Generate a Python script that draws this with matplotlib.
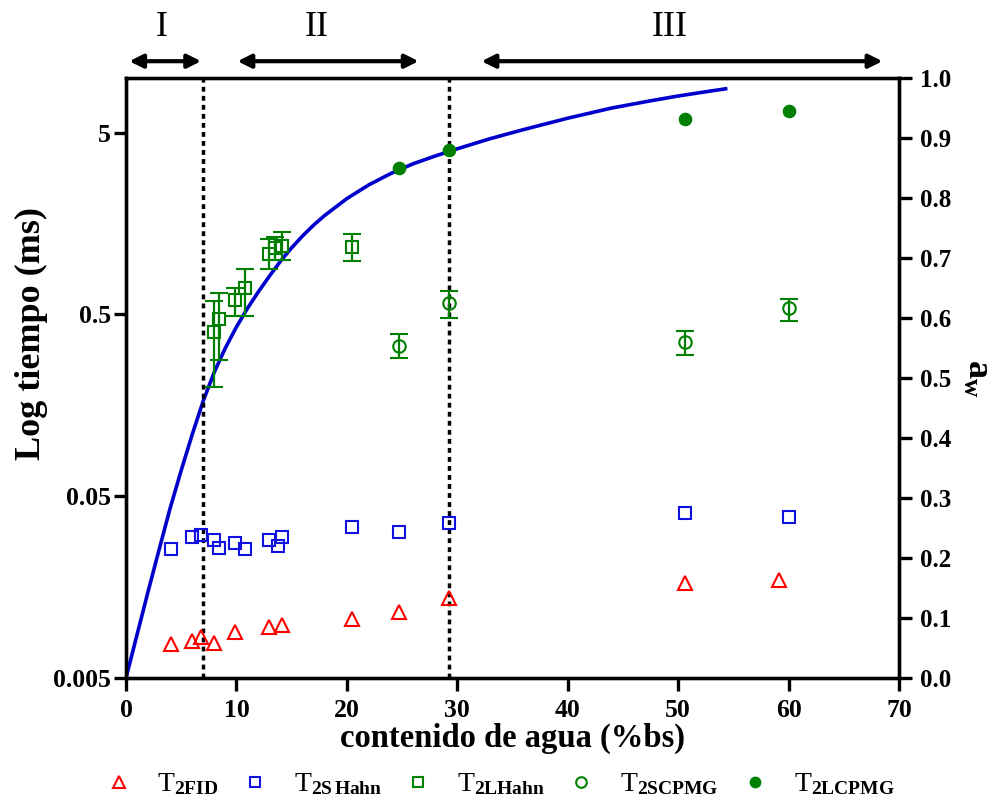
import numpy as np
import matplotlib.pyplot as plt

plt.rcParams['font.family'] = ['Liberation Serif', 'DejaVu Serif']
plt.rcParams['mathtext.fontset'] = 'custom'
plt.rcParams['mathtext.rm'] = 'Liberation Serif'
plt.rcParams['mathtext.bf'] = 'Liberation Serif:bold'
plt.rcParams['mathtext.it'] = 'Liberation Serif:italic'

# T2FID
fid_x = [4.08, 5.98, 6.79, 7.97, 9.87, 12.95, 14.13, 20.47, 24.73, 29.26, 50.6, 59.1]
fid_y = [0.0077, 0.0080, 0.0084, 0.0078, 0.0089, 0.0096, 0.0098, 0.0105, 0.0116, 0.0138, 0.0166, 0.0172]

# T2S Hahn
sh_x = [4.08, 5.98, 6.79, 7.97, 8.42, 9.87, 10.78, 12.95, 13.77, 14.13, 20.47, 24.73, 29.26, 50.6, 60.0]
sh_y = [0.0257, 0.0299, 0.0307, 0.0288, 0.0260, 0.0277, 0.0257, 0.0288, 0.0267, 0.0299,
        0.0340, 0.0318, 0.0357, 0.0405, 0.0385]

# T2L Hahn (with error bars: lower / upper ends)
lh_x = [7.97, 8.42, 9.87, 10.78, 12.95, 13.5, 14.13, 20.47]
lh_y = [0.398, 0.475, 0.597, 0.695, 1.08, 1.16, 1.19, 1.175]
lh_lo = [0.200, 0.282, 0.493, 0.493, 0.893, 1.00, 0.993, 0.984]
lh_hi = [0.590, 0.660, 0.695, 0.895, 1.295, 1.33, 1.42, 1.38]

# T2S CPMG
sc_x = [24.73, 29.26, 50.6, 60.0]
sc_y = [0.337, 0.577, 0.355, 0.540]
sc_lo = [0.287, 0.478, 0.301, 0.463]
sc_hi = [0.388, 0.671, 0.408, 0.612]

# T2L CPMG
lc_x = [24.73, 29.26, 50.6, 60.0]
lc_y = [3.21, 4.01, 5.93, 6.61]

# sorption isotherm (aw, right axis)
iso_x = [0, 1, 2, 3, 4, 5, 6, 7, 8, 9, 10, 11, 12, 13, 14, 15, 16, 17, 18, 20, 22, 24,
         26, 28, 30, 33, 36, 40, 44, 47.5, 50, 53.2, 54.3]
iso_aw = [0, 0.072, 0.144, 0.214, 0.283, 0.346, 0.406, 0.462, 0.510, 0.550, 0.585, 0.616,
          0.644, 0.670, 0.695, 0.717, 0.737, 0.755, 0.771, 0.799, 0.822, 0.841, 0.857,
          0.870, 0.882, 0.899, 0.914, 0.933, 0.950, 0.962, 0.970, 0.979, 0.982]

zone_lines = [6.97, 29.26]
zones = ['I', 'II', 'III']
zone_spans = [(0.3, 6.8), (10.1, 26.5), (32.2, 68.5)]
zone_label_x = [3.25, 17.3, 49.2]

red = '#FF0000'
blue = '#1010E0'
green = '#008000'

fig = plt.figure(figsize=(9.99, 8), dpi=100)
ax = fig.add_axes([0.1261, 0.1525, 0.7738, 0.75])
ax2 = ax.twinx()

ax.set_yscale('log')
ax.set_xlim(0, 70)
ax.set_ylim(0.005, 10)
ax2.set_ylim(0, 1.0)

# isotherm curve
ax2.plot(iso_x, iso_aw, color='#0000CC', lw=2.6, zorder=3, solid_joinstyle='round')

for xv in zone_lines:
    ax.axvline(xv, color='k', lw=2.5, dashes=(1.4, 1.2), zorder=1)

ms = 8.5
h1, = ax.plot(fid_x, fid_y, '^', ls='none', ms=9.5, mfc='none', mec=red, mew=1.5)
h2, = ax.plot(sh_x, sh_y, 's', ls='none', ms=ms, mfc='none', mec=blue, mew=1.5)

lh_err = [np.array(lh_y) - np.array(lh_lo), np.array(lh_hi) - np.array(lh_y)]
eb3 = ax.errorbar(lh_x, lh_y, yerr=lh_err, fmt='s', ms=ms, mfc='none', mec=green, mew=1.5,
                  ecolor=green, elinewidth=1.6, capsize=6.5, capthick=2)
sc_err = [np.array(sc_y) - np.array(sc_lo), np.array(sc_hi) - np.array(sc_y)]
eb4 = ax.errorbar(sc_x, sc_y, yerr=sc_err, fmt='o', ms=ms + 0.5, mfc='none', mec=green, mew=1.5,
                  ecolor=green, elinewidth=1.6, capsize=6.5, capthick=2)
h5, = ax.plot(lc_x, lc_y, 'o', ls='none', ms=ms + 0.3, color=green, mec=green, zorder=4)

ax.set_zorder(ax2.get_zorder() + 1)
ax.patch.set_visible(False)

# axes styling
for a in (ax, ax2):
    for s in a.spines.values():
        s.set_linewidth(2.4)
ax.set_xticks(range(0, 71, 10))
ax.set_yticks([0.005, 0.05, 0.5, 5])
ax.set_yticklabels(['0.005', '0.05', '0.5', '5'])
ax.yaxis.set_minor_locator(plt.NullLocator())
ax2.set_yticks(np.arange(0, 1.01, 0.1))
ax2.set_yticklabels(['%.1f' % v for v in np.arange(0, 1.01, 0.1)])
ax.tick_params(axis='y', which='major', length=9, width=2.4, direction='out', pad=2)
ax.tick_params(axis='x', which='major', length=9, width=2.4, direction='out', pad=6)
ax2.tick_params(axis='y', length=9, width=2.4, direction='out', pad=6)
for lab in ax.get_xticklabels() + ax.get_yticklabels():
    lab.set_fontsize(18.5)
    lab.set_fontweight('bold')
for lab in ax2.get_yticklabels():
    lab.set_fontsize(18)
    lab.set_fontweight('bold')

ax.set_xlabel('contenido de agua (%bs)', fontsize=23.5, fontweight='bold', labelpad=1)
ax.set_ylabel('Log tiempo (ms)', fontsize=26, fontweight='bold')
ax.yaxis.set_label_coords(-0.101, 0.575)
ax2.set_ylabel(r'$\mathbf{a}_{\mathbf{w}}$', fontsize=26, rotation=270, labelpad=30)

# zone arrows
for name, (x0, x1), tx in zip(zones, zone_spans, zone_label_x):
    ax.annotate('', xy=(x1, 1.028), xytext=(x0, 1.028), xycoords=('data', 'axes fraction'),
                arrowprops=dict(arrowstyle='<|-|>', lw=3, color='k', mutation_scale=20,
                                shrinkA=0, shrinkB=0), annotation_clip=False)
    ax.text(tx, 1.085, name, transform=ax.get_xaxis_transform(),
            ha='center', va='center', fontsize=26)

labels = [r'$\mathrm{T}_{\mathbf{2FID}}$', r'$\mathrm{T}_{\mathbf{2S\,Hahn}}$',
          r'$\mathrm{T}_{\mathbf{2LHahn}}$', r'$\mathrm{T}_{\mathbf{2SCPMG}}$',
          r'$\mathrm{T}_{\mathbf{2LCPMG}}$']
fig.legend([h1, h2, eb3[0], eb4[0], h5], labels, loc='lower center', ncol=5,
           bbox_to_anchor=(0.5, -0.028), frameon=False, fontsize=20, markerscale=0.85,
           handlelength=1.0, handletextpad=0.9, columnspacing=0.8)

fig.savefig('out.png', dpi=100)
